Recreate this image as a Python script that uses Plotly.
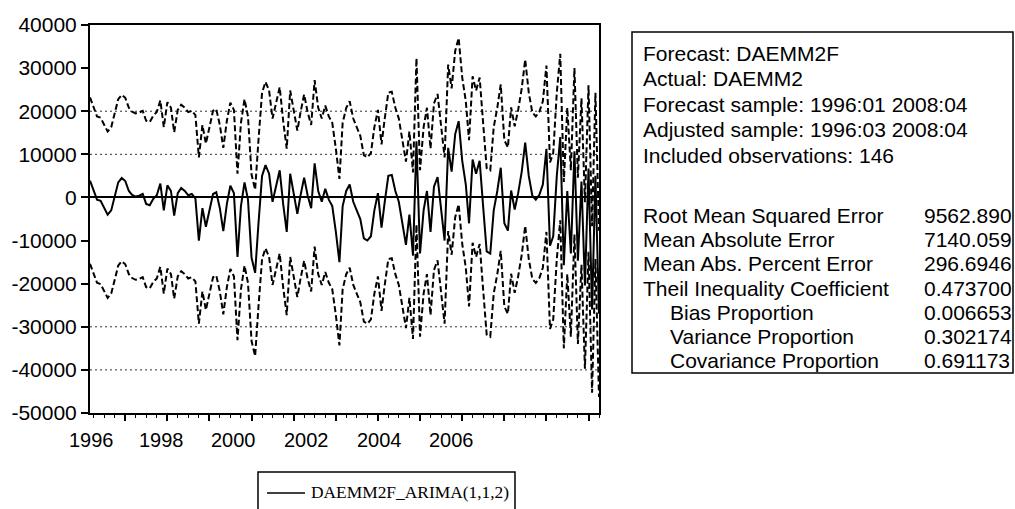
import pandas as pd
import plotly.graph_objects as go

# ---------------------------------------------------------------- data
months = pd.date_range("1996-03-01", "2008-04-01", freq="MS")  # 146 obs

forecast = [
    3900, 1500, -500, -800, -2500, -4000, -3000, 0, 3500, 4500,
    3800, 1500, 600, 200, 400, 800, -1500, -1800, -300, 500,
    3200, -3000, 2800, 1500, -4200, 1000, 2200, 1500, 500, 800,
    -200, -10000, -2500, -6800, -3000, 800, 1200, -2500, -7800, -1500,
    2700, 1000, -13800, -2000, 3500, -500, -14000, -17500, -6000, 5000,
    7500, 5500, -1000, 2500, 6300, -1500, -8000, 5500, 1000, -3800,
    500, 4600, 500, -2500, 7900, 1500, -1000, 2000, -500, -2000,
    -8000, -15000, -2000, 1500, 3000, -1000, -3000, -5000, -9500, -10000,
    -9000, -3000, 1000, -7000, -1000, 5000, 5200, 1500, -1000, -6000,
    -11000, -4000, -13500, 13000, -13000, -3000, 1500, -8000, 2500, 4700,
    -2000, -10000, 11500, 6000, 14700, 17700, 8500, 3000, -6000, 8800,
    5500, 8500, -2000, -12500, -13000, -3000, 1500, 6900, -6000, -7700,
    1600, -2800, 1000, 6000, 12700, 5000, 400, -500, 600, 3000,
    11300, -11200, -9000, 5000, 14000, -15700, 1500, -13000, 10700, -14700,
    3700, -20400, 6700, -26000, 5000, -27000,
]
forecast_se = 9650  # standard error of the forecast

upper = [v + 2 * forecast_se for v in forecast]
lower = [v - 2 * forecast_se for v in forecast]

y_ticks = [40000, 30000, 20000, 10000, 0, -10000, -20000, -30000, -40000, -50000]
y_ticktext = ["40000", "30000", "20000", "10000", "0", "-10000", "-20000",
              "-30000", "-40000", "-50000"]
ref_levels = [20000, 10000, -30000, -40000]

year_ticks = pd.date_range("1997-01-01", "2008-01-01", freq="YS")
year_labels = ["1996", "1998", "2000", "2002", "2004", "2006"]
year_label_pos = ["1996-03-10", "1997-11-15", "1999-08-01",
                  "2001-04-25", "2003-01-18", "2004-10-04"]

header_lines = [
    "Forecast: DAEMM2F",
    "Actual: DAEMM2",
    "Forecast sample: 1996:01 2008:04",
    "Adjusted sample: 1996:03 2008:04",
    "Included observations: 146",
]
stat_names = [
    "Root Mean Squared Error",
    "Mean Absolute Error",
    "Mean Abs. Percent Error",
    "Theil Inequality Coefficient",
    "Bias Proportion",
    "Variance Proportion",
    "Covariance Proportion",
]
stat_indent = [False, False, False, False, True, True, True]
stat_values = ["9562.890", "7140.059", "296.6946", "0.473700",
               "0.006653", "0.302174", "0.691173"]
legend_label = "DAEMM2F_ARIMA(1,1,2)"

# ---------------------------------------------------------------- layout geometry
W, H = 1015, 509
L, R, T, B = 90, 599, 25, 413


def px(x):
    return (x - L) / (R - L)


def py(y):
    return (B - y) / (B - T)


SANS = "Arial, Liberation Sans, sans-serif"
SERIF = "Times New Roman, Liberation Serif, serif"

fig = go.Figure()

band_style = dict(color="black", width=2, dash="6px,3px")
fig.add_trace(go.Scatter(x=months, y=upper, mode="lines", line=band_style,
                         showlegend=False, hoverinfo="skip"))
fig.add_trace(go.Scatter(x=months, y=lower, mode="lines", line=band_style,
                         showlegend=False, hoverinfo="skip"))
fig.add_trace(go.Scatter(x=months, y=forecast, mode="lines",
                         line=dict(color="black", width=2),
                         name=legend_label, showlegend=False))

# dotted reference lines
for lv in ref_levels:
    fig.add_shape(type="line", xref="paper", x0=0, x1=1, yref="y", y0=lv, y1=lv,
                  line=dict(color="#333", width=1, dash="2px,3px"), layer="below")

# statistics box
fig.add_shape(type="rect", xref="paper", yref="paper",
              x0=px(632), x1=px(1013), y0=py(373), y1=py(32),
              line=dict(color="black", width=1.5))

annotations = []
text_font = dict(family=SANS, size=21, color="black")
header_y = [54, 79, 104, 129, 155]
for txt, yy in zip(header_lines, header_y):
    annotations.append(dict(text=txt, x=px(641), y=py(yy), xref="paper", yref="paper",
                            xanchor="left", yanchor="middle", showarrow=False,
                            font=text_font))
stat_y = [215, 239, 263, 288, 312, 336, 360]
for name, ind, val, yy in zip(stat_names, stat_indent, stat_values, stat_y):
    annotations.append(dict(text=name, x=px(668 if ind else 641), y=py(yy),
                            xref="paper", yref="paper", xanchor="left",
                            yanchor="middle", showarrow=False, font=text_font))
    annotations.append(dict(text=val, x=px(922), y=py(yy), xref="paper", yref="paper",
                            xanchor="left", yanchor="middle", showarrow=False,
                            font=text_font))

# year labels under the time axis
for lab, pos in zip(year_labels, year_label_pos):
    annotations.append(dict(text=lab, x=pos, xref="x", y=py(440), yref="paper",
                            xanchor="center", yanchor="middle", showarrow=False,
                            font=dict(family=SANS, size=20, color="black")))

# legend box
fig.add_shape(type="rect", xref="paper", yref="paper",
              x0=px(258), x1=px(515), y0=py(530), y1=py(472),
              line=dict(color="black", width=1.5))
fig.add_shape(type="line", xref="paper", yref="paper",
              x0=px(267), x1=px(305), y0=py(493), y1=py(493),
              line=dict(color="black", width=1.5))
annotations.append(dict(text=legend_label, x=px(309), y=py(492), xref="paper",
                        yref="paper", xanchor="left", yanchor="middle",
                        showarrow=False,
                        font=dict(family=SERIF, size=17.4, color="black")))

x_range = [months[0], months[-1]]
fig.update_layout(
    width=W, height=H,
    margin=dict(l=L, r=W - R, t=T, b=H - B, pad=0),
    paper_bgcolor="white", plot_bgcolor="white",
    showlegend=False,
    annotations=annotations,
    xaxis=dict(
        type="date", range=x_range,
        tickmode="array", tickvals=year_ticks, showticklabels=False,
        ticks="outside", ticklen=6, tickwidth=1.5, tickcolor="black",
        minor=dict(dtick="M3", tick0="1996-01-01", ticks="outside",
                   ticklen=3, tickwidth=1, tickcolor="black", showgrid=False),
        showline=True, linecolor="black", linewidth=2, mirror=True,
        showgrid=False, zeroline=False,
    ),
    yaxis=dict(
        range=[-50000, 40000], tickmode="array", tickvals=y_ticks,
        ticktext=y_ticktext, ticks="outside", ticklen=7, tickwidth=1.5,
        tickcolor="black", tickfont=dict(family=SANS, size=21, color="black"),
        showline=True, linecolor="black", linewidth=2, mirror=True,
        showgrid=False, zeroline=True, zerolinecolor="black", zerolinewidth=2,
    ),
)

fig.write_html("out.html")
